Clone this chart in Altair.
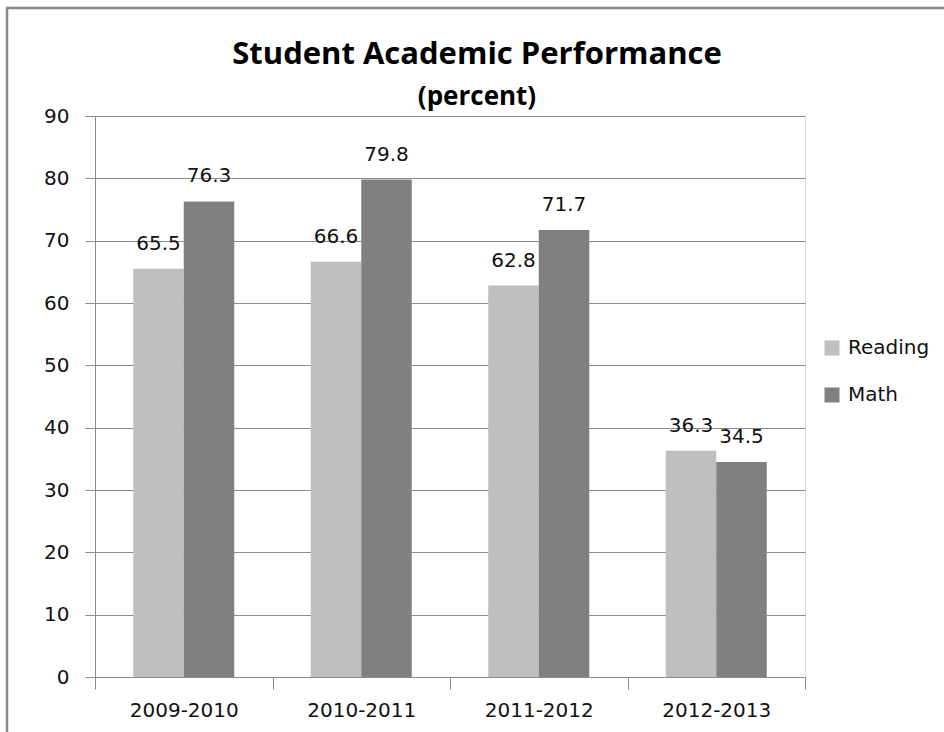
import altair as alt
import pandas as pd

years = ["2009-2010", "2010-2011", "2011-2012", "2012-2013"]
subjects = ["Reading", "Math"]
reading = [65.5, 66.6, 62.8, 36.3]
math = [76.3, 79.8, 71.7, 34.5]
y_ticks = [0, 10, 20, 30, 40, 50, 60, 70, 80, 90]

rows = []
for i, yr in enumerate(years):
    rows.append({"Year": yr, "Subject": "Reading", "Value": reading[i]})
    rows.append({"Year": yr, "Subject": "Math", "Value": math[i]})
df = pd.DataFrame(rows)

FONT = "DejaVu Sans"
GRID = "#8c8c8c"

x_enc = alt.X("Year:N", sort=years, title=None,
              scale=alt.Scale(paddingInner=0, paddingOuter=0),
              axis=alt.Axis(tickBand="extent", labelAngle=0, labelFontSize=20,
                            labelFont=FONT, labelColor="#111", labelPadding=11,
                            tickSize=12, tickColor=GRID, domainColor=GRID,
                            tickWidth=1, domainWidth=1, grid=False))
xo_enc = alt.XOffset("Subject:N", sort=subjects,
                     scale=alt.Scale(paddingInner=0, paddingOuter=0.757))
y_enc = alt.Y("Value:Q", title=None,
              scale=alt.Scale(domain=[0, 90], nice=False),
              axis=alt.Axis(values=y_ticks, labelFontSize=20, labelFont=FONT,
                            labelColor="#111", labelPadding=16, tickSize=10,
                            tickColor=GRID, domainColor=GRID, gridColor=GRID,
                            gridWidth=1, grid=True))

base = alt.Chart(df)

bars = base.mark_bar().encode(
    x=x_enc, xOffset=xo_enc, y=y_enc,
    color=alt.Color("Subject:N", sort=subjects,
                    scale=alt.Scale(domain=subjects, range=["#bfbfbf", "#808080"]),
                    legend=alt.Legend(title=None, orient="none", legendX=727,
                                      legendY=222, symbolType="square",
                                      symbolSize=225, symbolStrokeWidth=0,
                                      labelFontSize=20, labelFont=FONT,
                                      labelColor="#111", rowPadding=27,
                                      labelOffset=6)),
)

labels = base.mark_text(baseline="alphabetic", dy=-19, fontSize=20,
                        font=FONT, color="#111").encode(
    x=alt.X("Year:N", sort=years), xOffset=alt.XOffset("Subject:N", sort=subjects),
    y="Value:Q", text=alt.Text("Value:Q", format=".1f"),
)

frame_left = alt.Chart(pd.DataFrame({"a": [0]})).mark_rule(
    color="#8a8a8a", strokeWidth=2.5).encode(
    x=alt.value(-88), y=alt.value(-108), y2=alt.value(630))
frame_top = alt.Chart(pd.DataFrame({"a": [0]})).mark_rule(
    color="#8a8a8a", strokeWidth=2.5).encode(
    y=alt.value(-108), x=alt.value(-89), x2=alt.value(860))

chart = alt.layer(bars, labels, frame_left, frame_top).properties(
    width=710, height=561,
    padding={"left": 95, "top": 116, "right": 139, "bottom": 55},
    autosize=alt.AutoSizeParams(type="none"),
    title=alt.TitleParams(
        text="Student Academic Performance",
        subtitle="(percent)",
        anchor="middle", dx=27, dy=112,
        font="Open Sans", fontSize=31, fontWeight="bold", color="#000",
        subtitleFont="Open Sans", subtitleFontSize=26,
        subtitleFontWeight="bold", subtitleColor="#000",
        subtitlePadding=13, offset=8,
    ),
).configure_view(stroke=None).configure(background="white")

chart.save("out.html", embed_options={"renderer": "svg", "actions": False})
